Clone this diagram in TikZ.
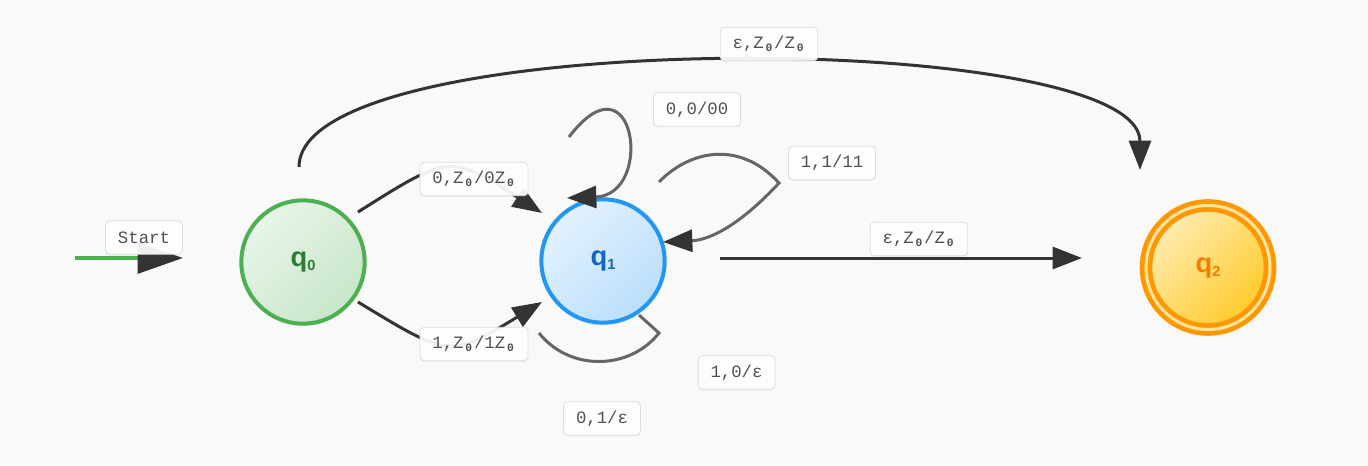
\documentclass[tikz,border=0pt]{standalone}
\usepackage{fontspec}
\setmainfont{Liberation Sans}
\newfontfamily\lblfont{Liberation Mono}
\usetikzlibrary{arrows.meta,calc,shadows}
\definecolor{bg}{HTML}{F9F9F9}
\definecolor{edgec}{HTML}{333333}
\definecolor{loopc}{HTML}{666666}
\definecolor{lbltext}{HTML}{505050}
\definecolor{lblborder}{HTML}{DDDDDD}
\definecolor{gborder}{HTML}{4CAF50}
\definecolor{gtext}{HTML}{2E7D32}
\definecolor{gA}{HTML}{E8F5E9}
\definecolor{gB}{HTML}{C8E6C9}
\definecolor{bborder}{HTML}{2196F3}
\definecolor{btext}{HTML}{1565C0}
\definecolor{bA}{HTML}{E3F2FD}
\definecolor{bB}{HTML}{BBDEFB}
\definecolor{oborder}{HTML}{FF9800}
\definecolor{otext}{HTML}{F57C00}
\definecolor{oA}{HTML}{FFECB3}
\definecolor{oB}{HTML}{FFCA28}
\definecolor{ogap}{HTML}{FFE6A0}
\newcommand\zs{Z\makebox[0.6em][c]{\raisebox{-0.25ex}{\fontsize{8.5}{8.5}\selectfont\bfseries 0}}}
\newcommand\qsub[1]{q\raisebox{-0.3ex}{\fontsize{11}{11}\selectfont #1}}
\tikzset{
  state/.style={circle, inner sep=0pt, minimum size=92.5pt, line width=3pt,
    font=\bfseries\fontsize{20.5}{20.5}\selectfont,
    drop shadow={opacity=0.12, shadow xshift=0pt, shadow yshift=-2pt}},
  lbl/.style={rectangle, rounded corners=3pt, draw=lblborder, line width=0.6pt,
    fill=white, fill opacity=0.92, text opacity=1, text=lbltext,
    font=\lblfont\fontsize{13}{15}\selectfont,
    inner xsep=9.3pt, inner ysep=0pt, minimum height=25pt,
    drop shadow={opacity=0.07, shadow xshift=0pt, shadow yshift=-1pt}},
  tip/.style={-{Triangle[length=22pt,width=16.5pt,color=edgec]}},
  edgeline/.style={draw=edgec, line width=2.25pt, tip},
  loopline/.style={draw=loopc, line width=2.25pt},
}
\begin{document}
\begin{tikzpicture}[x=0.75pt,y=0.75pt]
\fill[bg] (0,0) rectangle (1368,465);
\useasboundingbox (0,0) rectangle (1368,465);

% states
\node[state, draw=gborder, text=gtext, top color=gA, bottom color=gB, shading angle=45] (q0) at (303,203) {\qsub{0}};
\node[state, draw=bborder, text=btext, top color=bA, bottom color=bB, shading angle=45] (q1) at (603,204) {\qsub{1}};
\node[state, draw=oborder, text=otext, top color=oA, bottom color=oB, shading angle=45,
      minimum size=93pt, line width=3.6pt, double=ogap, double distance=2.25pt] (q2) at (1208,197.5) {\qsub{2}};

% start arrow
\coordinate (s0) at (75,207);
\draw[draw=gborder, line width=3pt, -{Triangle[length=34pt,width=23pt,color=edgec]}] (s0) -- ($(q0)+(-120,4)$);

% q0 -> q1
\draw[edgeline] ($(q0)+(55,50)$) .. controls (450,311) .. ($(q1)+(-61,48)$);
\draw[edgeline] ($(q0)+(55,-40)$) .. controls (450,107) .. ($(q1)+(-61,-41)$);

% self loops on q1
\draw[loopline, tip] ($(q1)+(-34,124)$) .. controls (635,415) and (655,270) .. ($(q1)+(-36,63)$);
\draw[loopline, tip] ($(q1)+(56,79)$) .. controls (690,315) and (740,325) .. (779,282)
   .. controls (740,240) and (710,225) .. ($(q1)+(60,19)$);
\draw[loopline] ($(q1)+(36,-54)$) -- (659,132) .. controls (630,95) and (570,93) .. ($(q1)+(-64,-72)$);

% q1 -> q2
\draw[edgeline] ($(q1)+(117,3)$) -- ($(q2)+(-126,9.5)$);

% q0 -> q2
\draw[edgeline] ($(q0)+(-4,95)$) .. controls (299,440) and (1140,437) .. ($(q2)+(-68,97.5)$);

% labels
\node[lbl] (lstart) at (144,227.5) {Start};
\node[lbl] (lA) at (474,286) {0,\zs/0\zs};
\node[lbl] (lB) at (474,121) {1,\zs/1\zs};
\node[lbl] (lC) at (697,355.5) {0,0/00};
\node[lbl] (lD) at (832,302) {1,1/11};
\node[lbl] (lE) at (736.5,92.5) {1,0/ε};
\node[lbl] (lF) at (602,46.5) {0,1/ε};
\node[lbl] (lG) at (919,226) {ε,\zs/\zs};
\node[lbl] (lH) at (769,421) {ε,\zs/\zs};
\end{tikzpicture}
\end{document}
